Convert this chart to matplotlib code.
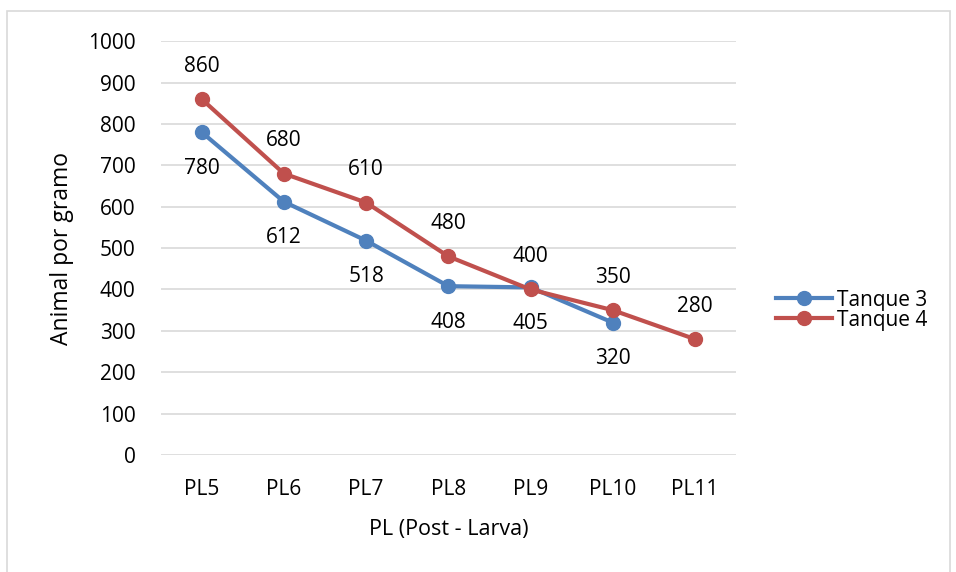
import matplotlib.pyplot as plt
from matplotlib.patches import Rectangle

plt.rcParams['font.family'] = ['Open Sans', 'DejaVu Sans']

stages = ['PL5', 'PL6', 'PL7', 'PL8', 'PL9', 'PL10', 'PL11']
tanque3 = [780, 612, 518, 408, 405, 320]
tanque4 = [860, 680, 610, 480, 400, 350, 280]

blue = '#4F81BD'
red = '#C0504D'
fs = 15

fig = plt.figure(figsize=(9.56, 5.72), dpi=100)
ax = fig.add_axes([0.168, 0.2045, 0.602, 0.7235])

x3 = list(range(len(tanque3)))
x4 = list(range(len(tanque4)))
l3, = ax.plot(x3, tanque3, color=blue, lw=3, marker='o', ms=10, label='Tanque 3', zorder=3)
l4, = ax.plot(x4, tanque4, color=red, lw=3, marker='o', ms=10, label='Tanque 4', zorder=4)

for x, v in zip(x3, tanque3):
    ax.annotate(str(v), (x, v), xytext=(0, -36), textcoords='offset pixels',
                ha='center', va='center', fontsize=fs)
for x, v in zip(x4, tanque4):
    ax.annotate(str(v), (x, v), xytext=(0, 33), textcoords='offset pixels',
                ha='center', va='center', fontsize=fs)

ax.set_xlim(-0.5, len(stages) - 0.5)
ax.set_ylim(0, 1000)
ax.set_yticks(range(0, 1001, 100))
ax.set_xticks(range(len(stages)))
ax.set_xticklabels(stages)
ax.grid(axis='y', color='#d9d9d9', lw=1.2)
ax.set_axisbelow(True)
for s in ax.spines.values():
    s.set_visible(False)
ax.tick_params(length=0, labelsize=fs, pad=17)
ax.tick_params(axis='y', pad=18)

ax.set_xlabel('PL (Post - Larva)', fontsize=fs + 0.5, labelpad=14)
ax.set_ylabel('Animal por gramo', fontsize=fs + 1.5, labelpad=10)

fig.legend(handles=[l3, l4], loc='center left', bbox_to_anchor=(0.803, 0.458),
           frameon=False, fontsize=fs, handlelength=2.7, labelspacing=-0.05,
           handletextpad=0.25, borderaxespad=0)

fig.patches.append(Rectangle((7 / 956, -0.1), 943 / 956, 1.1 - 11 / 572,
                             transform=fig.transFigure, fill=False,
                             edgecolor='#d9d9d9', lw=1.2))

fig.savefig('out.png', dpi=100)
